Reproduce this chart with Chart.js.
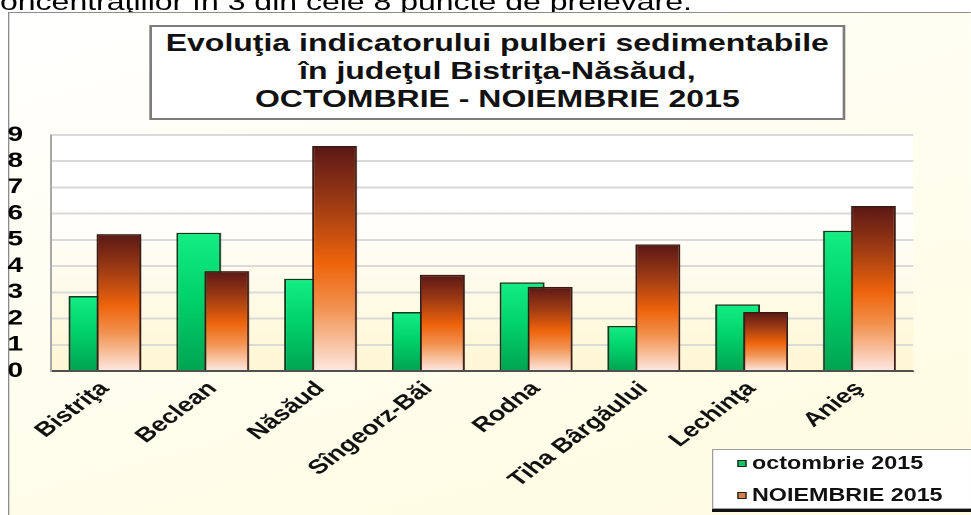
<!DOCTYPE html>
<html>
<head>
<meta charset="utf-8">
<script src="https://cdn.jsdelivr.net/npm/chart.js@4.4.0/dist/chart.umd.min.js"></script>
<style>
  html, body { margin: 0; padding: 0; background: #fff; overflow: hidden; }
  body { width: 971px; height: 515px; position: relative; font-family: 'Liberation Sans', Arial, sans-serif; }
  /* the slide was a 4:3 picture stretched to this width, so draw at 728px and stretch */
  #stage { position: absolute; left: 0; top: 0; width: 728.25px; height: 515px;
           transform: scaleX(1.3333); transform-origin: 0 0; overflow: hidden; }
  #topline { position: absolute; left: -12px; top: -10px; font-size: 24px; line-height: 24px;
             white-space: nowrap; color: #000; }
  #frame { position: absolute; left: 6px; top: 12px; width: 760px; height: 520px;
           border-left: 1px solid #8c8c8c; border-top: 1px solid #8c8c8c;
           background: linear-gradient(160deg, #ffffff 0%, #fffef2 35%, #fffbdf 100%); }
  #title { position: absolute; left: 112px; top: 25px; width: 518px; height: 89px;
           border: 2px solid #7c7c7c; background: #fff; text-align: center;
           font-weight: bold; font-size: 24px; line-height: 28px; padding-top: 2px; color: #111; }
  canvas { position: absolute; left: 0; top: 0; }
  #legend { position: absolute; left: 534px; top: 449px; width: 210px; height: 58px;
            background: #fff; border: 1px solid #a0a0a0; box-shadow: 0 3px 0 #111;
            font-weight: bold; font-size: 17.5px; color: #111; }
  .item { position: absolute; left: 18px; white-space: nowrap; }
  .sw { display: inline-block; width: 5px; height: 5px; border: 1px solid #222; margin-right: 4px;
        vertical-align: 2px; }
</style>
</head>
<body>
<div id="stage">
  <div id="topline">concentraţiilor în 3 din cele 8 puncte de prelevare.</div>
  <div id="frame"></div>
  <div id="title"></div>
  <canvas id="chart" width="728" height="515"></canvas>
  <div id="legend"></div>
</div>
<script>
// categories and values
const categories = ['Bistriţa', 'Beclean', 'Năsăud', 'Sîngeorz-Băi', 'Rodna', 'Tiha Bârgăului', 'Lechinţa', 'Anieş'];
const octombrie = [2.86, 5.27, 3.52, 2.25, 3.38, 1.72, 2.54, 5.35];
const noiembrie = [5.22, 3.81, 8.58, 3.67, 3.21, 4.83, 2.25, 6.29];
const seriesLabels = ['octombrie 2015', 'NOIEMBRIE 2015'];
const titleLines = ['Evoluţia indicatorului pulberi sedimentabile', 'în judeţul Bistriţa-Năsăud,', 'OCTOMBRIE - NOIEMBRIE 2015'];
const yMin = 0, yMax = 9, yStep = 1;

const font = "'Liberation Sans', Arial, sans-serif";

document.getElementById('title').innerHTML = titleLines.map(t => '<div>' + t + '</div>').join('');

// gradient from the top of each bar down to the base
function barGradient(stops) {
    return function(ctx) {
        if (ctx.type !== 'data' || !ctx.chart.chartArea) return stops[Math.floor(stops.length / 2)][1];
        const y = ctx.chart.scales.y;
        const top = y.getPixelForValue(ctx.raw);
        const bottom = y.getPixelForValue(0);
        const g = ctx.chart.ctx.createLinearGradient(0, top, 0, bottom);
        stops.forEach(s => g.addColorStop(s[0], s[1]));
        return g;
    };
}

const greenStops = [[0, '#14ee84'], [0.45, '#00d46c'], [1, '#00a452']];
const brownStops = [[0, '#5a1816'], [0.25, '#9c3a14'], [0.52, '#ee640c'], [0.72, '#f29250'], [1, '#fde9e2']];

// plot area: white at the top fading to pale yellow
const plotBg = {
    id: 'plotBg',
    beforeDraw(chart) {
        const {ctx, chartArea: a} = chart;
        const g = ctx.createLinearGradient(0, a.top, 0, a.bottom);
        g.addColorStop(0, '#ffffff');
        g.addColorStop(0.3, '#ffffff');
        g.addColorStop(1, '#fff7d4');
        ctx.fillStyle = g;
        ctx.fillRect(a.left, a.top, a.right - a.left, a.bottom - a.top);
    }
};

// draw green first so the brown bars sit in front
const drawOrder = {
    id: 'drawOrder',
    beforeDatasetsDraw(chart) {
        [0, 1].forEach(i => chart.getDatasetMeta(i).controller.draw());
        return false;
    }
};

const chart = new Chart(document.getElementById('chart').getContext('2d'), {
    type: 'bar',
    data: {
        labels: categories,
        datasets: [{
            label: seriesLabels[0],
            data: octombrie,
            backgroundColor: barGradient(greenStops),
            borderColor: '#143a1e',
            borderWidth: 1.5,
            categoryPercentage: 0.52,
            barPercentage: 1.6
        }, {
            label: seriesLabels[1],
            data: noiembrie,
            backgroundColor: barGradient(brownStops),
            borderColor: '#3a1a12',
            borderWidth: 1.5,
            categoryPercentage: 0.52,
            barPercentage: 1.6
        }]
    },
    options: {
        responsive: false,
        animation: false,
        devicePixelRatio: 2,
        layout: { padding: { top: 135, right: 43, left: 5, bottom: 0 } },
        plugins: { legend: { display: false }, tooltip: { enabled: false } },
        scales: {
            x: {
                grid: { display: false },
                border: { display: true, color: '#505050', width: 1.5 },
                ticks: {
                    color: '#111',
                    font: { family: font, size: 20, weight: 'bold' },
                    minRotation: 45, maxRotation: 45, autoSkip: false, padding: -2
                },
                afterFit(scale) { scale.height = 144; }
            },
            y: {
                min: yMin, max: yMax,
                grid: {
                    color: ctx => ctx.tick && ctx.tick.value === 0 ? '#505050' : '#dadada',
                    lineWidth: 2,
                    drawTicks: false
                },
                border: { display: true, color: '#a8a8a8', width: 1.5 },
                ticks: {
                    stepSize: yStep,
                    autoSkip: false,
                    color: '#000',
                    font: { family: font, size: 21, weight: 'bold' },
                    padding: 21
                },
                afterFit(scale) { scale.width = 33.3; }
            }
        }
    },
    plugins: [plotBg, drawOrder]
});

// legend box like the spreadsheet one, built from the dataset labels
const swatches = ['#12c464', '#d4824a'];
document.getElementById('legend').innerHTML = seriesLabels.map((t, i) =>
    '<div class="item" style="top:' + (i === 0 ? 3 : 35) + 'px"><span class="sw" style="background:' + swatches[i] + '"></span>' + t + '</div>'
).join('');
</script>
</body>
</html>
